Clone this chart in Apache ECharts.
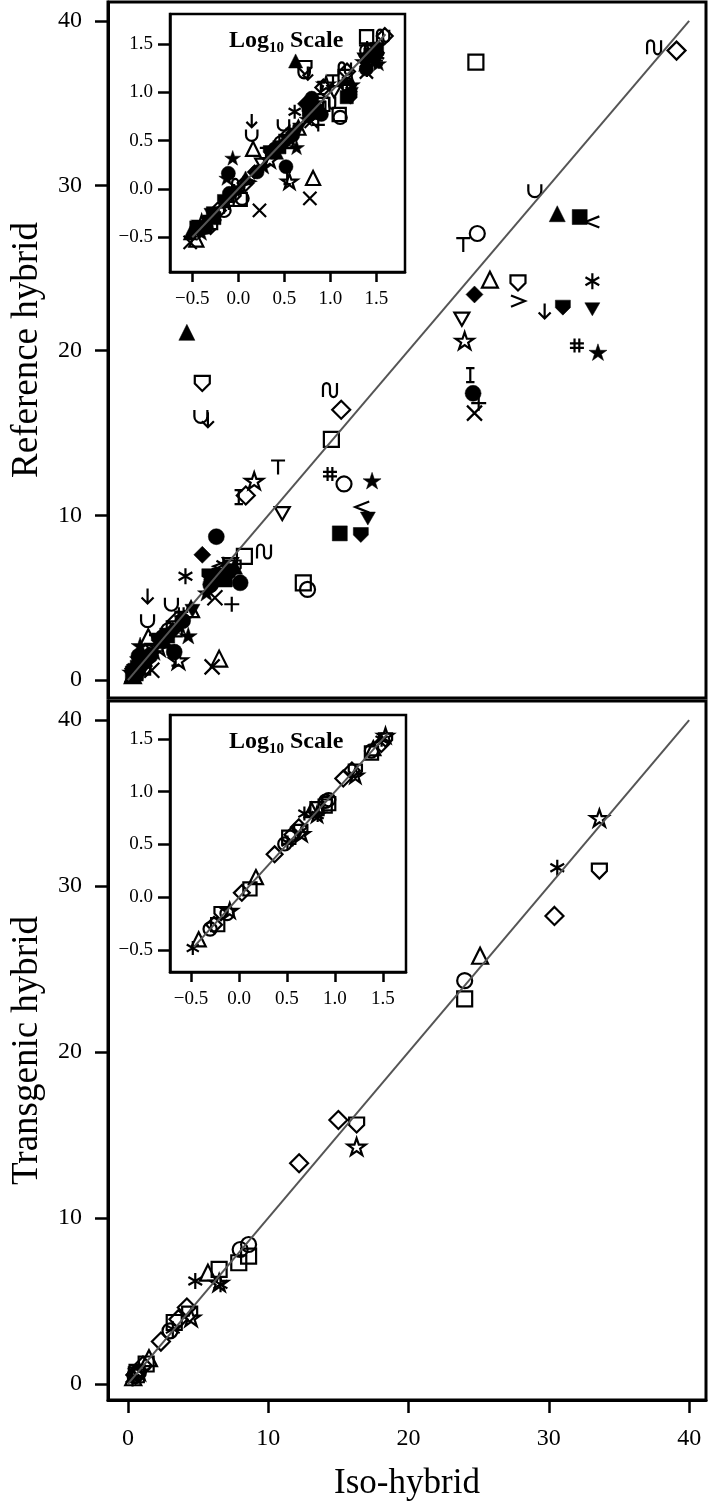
<!DOCTYPE html>
<html>
<head>
<meta charset="utf-8">
<script src="https://cdn.jsdelivr.net/npm/echarts@6/dist/echarts.min.js"></script>
<style>
  html, body { margin: 0; padding: 0; background: #fff; }
  #chart { width: 709px; height: 1503px; }
</style>
</head>
<body>
<div id="chart"></div>
<script>
// tick labels
const mainTicks = [0, 10, 20, 30, 40];
const insetTicks = [-0.5, 0, 0.5, 1, 1.5];
// y = x reference line ends
const mainDiag = [0, 40];
const topInsetDiag = [-0.5, 1.6];
const botInsetDiag = [-0.47, 1.55];

// top panel: iso-hybrid vs reference hybrid
const topOpenSquare = [[24.8, 37.5], [14.5, 14.6], [12.5, 5.9], [1.05, 0.78], [3.3, 3.1], [0.5, 0.45], [8.3, 7.5]];
const topOpenCircle = [[24.9, 27.1], [15.4, 11.9], [12.8, 5.5], [1.1, 0.8], [2.9, 3.0], [0.7, 0.6]];
const topOpenTriangle = [[25.8, 24.3], [6.5, 1.3], [1.45, 2.6], [0.35, 0.3], [4.5, 4.3]];
const topOpenDiamond = [[39.1, 38.2], [15.2, 16.4], [8.4, 11.2], [0.6, 0.6], [3.5, 3.6], [1.2, 1.15]];
const topOpenStar = [[24.0, 20.6], [9.0, 12.1], [3.6, 1.2], [2.2, 2.0], [0.4, 0.45]];
const topOpenInvTriangle = [[23.8, 21.9], [11.0, 10.1], [1.8, 1.8], [7.3, 7.0]];
const topOpenShield = [[27.8, 24.1], [5.3, 18.0], [7.5, 6.8], [0.9, 0.85]];
const topFilledSquare = [[32.2, 28.1], [15.1, 8.9], [0.55, 0.5], [0.35, 0.4], [6.9, 6.1], [2.8, 2.7], [0.53, 0.56]];
const topFilledCircle = [[24.6, 17.4], [6.3, 8.7], [8.0, 5.9], [3.3, 1.7], [0.8, 0.9], [2.5, 2.6], [7.2, 6.6], [5.9, 5.8], [3.9, 3.6], [1.6, 1.5], [0.45, 0.4], [0.78, 1.45]];
const topFilledTriangle = [[30.6, 28.3], [4.2, 21.1], [0.3, 0.35], [1.2, 1.3], [7.6, 6.9], [2.6, 2.4]];
const topFilledDiamond = [[24.7, 23.4], [5.3, 7.6], [1.5, 1.5], [0.45, 0.45], [6.0, 6.1], [3.2, 3.0]];
const topFilledStar = [[33.5, 19.9], [17.4, 12.1], [4.3, 2.7], [0.87, 2.1], [0.4, 0.35], [7.0, 6.2], [5.6, 5.3], [3.7, 3.3], [1.9, 1.7], [0.75, 1.3]];
const topFilledInvTriangle = [[33.1, 22.5], [17.1, 9.8], [0.5, 0.55], [6.5, 6.4], [4.6, 4.2], [1.0, 0.95]];
const topFilledShield = [[31.0, 22.6], [16.6, 8.8], [2.2, 2.4], [5.8, 6.3], [0.7, 0.75]];
const topAsterisk = [[33.1, 24.2], [4.1, 6.3], [0.9, 0.95], [6.8, 7.0]];
const topCross = [[24.7, 16.2], [6.0, 0.8], [1.7, 0.6], [6.2, 5.0], [0.3, 0.28]];
const topPlus = [[25.0, 16.8], [7.4, 4.6], [0.7, 0.65], [4.0, 3.8]];
const topHash = [[32.0, 20.3], [14.4, 12.5], [0.75, 0.7], [3.8, 4.0]];
const topCup = [[29.0, 29.7], [5.2, 16.0], [3.1, 4.6], [1.4, 3.6], [0.4, 0.4]];
const topWave = [[37.5, 38.4], [14.4, 17.6], [9.7, 7.8], [1.0, 1.1]];
const topDownArrow = [[29.7, 22.4], [5.7, 15.8], [1.4, 5.1], [0.5, 0.4]];
const topTee = [[23.9, 26.4], [10.7, 12.9], [2.0, 2.3]];
const topIBeam = [[24.4, 18.5], [7.9, 11.1], [3.4, 1.3], [0.6, 0.55]];
const topLess = [[33.1, 27.8], [16.7, 10.5], [6.6, 6.9]];
const topGreater = [[27.8, 23.0], [1.3, 1.2]];

// bottom panel: iso-hybrid vs transgenic hybrid
const botOpenSquare = [[24.0, 23.2], [7.9, 7.3], [8.6, 7.7], [6.5, 6.9], [3.3, 3.7], [0.6, 0.55], [1.3, 1.2]];
const botOpenCircle = [[24.0, 24.3], [8.0, 8.1], [8.6, 8.4], [0.5, 0.5], [3.0, 3.2], [0.75, 0.7]];
const botOpenTriangle = [[25.1, 25.8], [5.7, 6.7], [1.5, 1.55], [0.38, 0.4]];
const botOpenDiamond = [[30.4, 28.2], [15.0, 15.9], [12.2, 13.3], [4.2, 4.6], [2.35, 2.55], [1.07, 1.1], [0.55, 0.55], [3.6, 3.9]];
const botOpenStar = [[33.6, 34.1], [16.3, 14.3], [6.5, 6.1], [4.5, 4.0], [0.8, 0.75]];
const botAsterisk = [[30.6, 31.1], [4.8, 6.2], [6.6, 6.0], [0.33, 0.33], [3.2, 3.3]];
const botOpenShield = [[33.6, 30.9], [16.3, 15.6], [4.4, 4.2], [0.65, 0.7]];

const FONT = "'Liberation Serif', 'Times New Roman', serif";
const STAR = 'path://M50,0 L61.8,35.1 L98.9,35.1 L69.1,56.7 L80.3,90.5 L50,69.1 L19.7,90.5 L30.9,56.7 L1.1,35.1 L38.2,35.1 Z';

// marker look per symbol name
const SYMBOLS = {
  openSquare: { symbol: 'rect', size: 15, kind: 'open' },
  openCircle: { symbol: 'circle', size: 15, kind: 'open' },
  openTriangle: { symbol: 'triangle', size: 16, kind: 'open' },
  openDiamond: { symbol: 'diamond', size: 18, kind: 'open' },
  openStar: { symbol: STAR, size: 18, kind: 'open' },
  openInvTriangle: { symbol: 'path://M0,0 L10,0 L5,8.7 Z', size: 15, kind: 'open' },
  openShield: { symbol: 'path://M0,0 L10,0 L10,5 L5,10 L0,5 Z', size: 15, kind: 'open' },
  filledSquare: { symbol: 'rect', size: 15, kind: 'solid' },
  filledCircle: { symbol: 'circle', size: 16, kind: 'solid' },
  filledTriangle: { symbol: 'triangle', size: 16, kind: 'solid' },
  filledDiamond: { symbol: 'diamond', size: 17, kind: 'solid' },
  filledStar: { symbol: STAR, size: 18, kind: 'solid' },
  filledInvTriangle: { symbol: 'path://M0,0 L10,0 L5,8.7 Z', size: 15, kind: 'solid' },
  filledShield: { symbol: 'path://M0,0 L10,0 L10,5 L5,10 L0,5 Z', size: 15, kind: 'solid' },
  asterisk: { symbol: 'path://M5,0 L5,10 M0.7,2.5 L9.3,7.5 M0.7,7.5 L9.3,2.5', size: 16, kind: 'line' },
  cross: { symbol: 'path://M0,0 L10,10 M0,10 L10,0', size: 15, kind: 'line' },
  plus: { symbol: 'path://M5,0 L5,10 M0,5 L10,5', size: 15, kind: 'line' },
  hash: { symbol: 'path://M3.3,0 L3.3,10 M6.7,0 L6.7,10 M0,3.4 L10,3.4 M0,6.6 L10,6.6', size: 14, kind: 'line' },
  cup: { symbol: 'path://M0,0 L0,5 A5,5 0 0 0 10,5 L10,0', size: 13, kind: 'line' },
  wave: { symbol: 'path://M0,10 L0,3 A2.5,3 0 0 1 5,3 L5,7 A2.5,3 0 0 0 10,7 L10,0', size: 14, kind: 'line' },
  downArrow: { symbol: 'path://M5,0 L5,10 M1,6 L5,10 L9,6', size: 15, kind: 'line' },
  tee: { symbol: 'path://M0,0 L10,0 M5,0 L5,10', size: 14, kind: 'line' },
  iBeam: { symbol: 'path://M2,0 L8,0 M5,0 L5,10 M2,10 L8,10', size: 14, kind: 'line' },
  less: { symbol: 'path://M10,0 L0,4 L10,8', size: 14, kind: 'line' },
  greater: { symbol: 'path://M0,0 L10,4 L0,8', size: 14, kind: 'line' }
};

const topSets = [
  ['openSquare', topOpenSquare], ['openCircle', topOpenCircle], ['openTriangle', topOpenTriangle],
  ['openDiamond', topOpenDiamond], ['openStar', topOpenStar], ['openInvTriangle', topOpenInvTriangle],
  ['openShield', topOpenShield], ['filledSquare', topFilledSquare], ['filledCircle', topFilledCircle],
  ['filledTriangle', topFilledTriangle], ['filledDiamond', topFilledDiamond], ['filledStar', topFilledStar],
  ['filledInvTriangle', topFilledInvTriangle], ['filledShield', topFilledShield], ['asterisk', topAsterisk],
  ['cross', topCross], ['plus', topPlus], ['hash', topHash], ['cup', topCup], ['wave', topWave],
  ['downArrow', topDownArrow], ['tee', topTee], ['iBeam', topIBeam], ['less', topLess], ['greater', topGreater]
];
const botSets = [
  ['openSquare', botOpenSquare], ['openCircle', botOpenCircle], ['openTriangle', botOpenTriangle],
  ['openDiamond', botOpenDiamond], ['openStar', botOpenStar], ['asterisk', botAsterisk],
  ['openShield', botOpenShield]
];

function markStyle(kind) {
  if (kind === 'solid') return { color: '#000', borderColor: '#000', borderWidth: 0.5, opacity: 1 };
  if (kind === 'open') return { color: 'rgba(0,0,0,0)', borderColor: '#000', borderWidth: 2.2, opacity: 1 };
  return { color: 'none', borderColor: '#000', borderWidth: 2.2, opacity: 1 };
}

// inset = same values on a log10 scale
function scatter(name, data, idx, log, scale) {
  const s = SYMBOLS[name];
  return {
    type: 'scatter',
    xAxisIndex: idx,
    yAxisIndex: idx,
    data: log ? data.map((p) => [Math.log10(p[0]), Math.log10(p[1])]) : data,
    symbol: s.symbol,
    symbolSize: s.size * scale,
    symbolKeepAspect: true,
    itemStyle: markStyle(s.kind),
    silent: true,
    z: 2
  };
}

function diagLine(ends, idx) {
  return {
    type: 'line',
    xAxisIndex: idx,
    yAxisIndex: idx,
    data: ends.map((v) => [v, v]),
    showSymbol: false,
    lineStyle: { color: '#555', width: 2, opacity: 1 },
    silent: true,
    z: 5
  };
}

const series = [];
topSets.forEach(([n, d]) => series.push(scatter(n, d, 0, false, 1)));
botSets.forEach(([n, d]) => series.push(scatter(n, d, 1, false, 1)));
topSets.forEach(([n, d]) => series.push(scatter(n, d, 2, true, 0.88)));
botSets.forEach(([n, d]) => series.push(scatter(n, d, 3, true, 0.88)));
series.push(diagLine(mainDiag, 0), diagLine(mainDiag, 1), diagLine(topInsetDiag, 2), diagLine(botInsetDiag, 3));

const fmtInset = (v) => (v < 0 ? '\u2212' + Math.abs(v).toFixed(1) : v.toFixed(1));

function mainY(grid, min, name) {
  return {
    gridIndex: grid, type: 'value', min: min, max: 41.15,
    name: name, nameLocation: 'middle', nameGap: 62,
    nameTextStyle: { fontFamily: FONT, fontSize: 37, color: '#000' },
    axisLine: { show: true, onZero: false, lineStyle: { color: '#000', width: 3 } },
    axisTick: { show: true, length: 13, lineStyle: { color: '#000', width: 2.5 }, customValues: mainTicks },
    axisLabel: { customValues: mainTicks, fontFamily: FONT, fontSize: 24, color: '#000', margin: 26 },
    splitLine: { show: false }
  };
}

function insetAxis(grid, min, max, isX) {
  return {
    gridIndex: grid, type: 'value', min: min, max: max,
    axisLine: { show: true, onZero: false, lineStyle: { color: '#000', width: 2.5 } },
    axisTick: { show: true, length: isX ? 10 : 12, lineStyle: { color: '#000', width: 2.5 }, customValues: insetTicks },
    axisLabel: { customValues: insetTicks, formatter: fmtInset, fontFamily: FONT, fontSize: 19, color: '#000', margin: isX ? 18 : 17 },
    splitLine: { show: false }
  };
}

const logTitle = (top) => ({
  type: 'text', left: 229, top: top, z: 10,
  style: {
    text: '{a|Log}{s|10}{a| Scale}',
    fill: '#000',
    rich: {
      a: { fontFamily: FONT, fontWeight: 'bold', fontSize: 24, lineHeight: 30, verticalAlign: 'middle' },
      s: { fontFamily: FONT, fontWeight: 'bold', fontSize: 15, lineHeight: 15, verticalAlign: 'bottom' }
    }
  }
});

const chart = echarts.init(document.getElementById('chart'));
chart.setOption({
  animation: false,
  backgroundColor: '#fff',
  grid: [
    { left: 108, right: 3, top: 2, height: 696, show: true, borderColor: '#000', borderWidth: 3 },
    { left: 108, right: 3, top: 701, height: 699, show: true, borderColor: '#000', borderWidth: 3 },
    { left: 170, width: 235, top: 14, height: 258, show: true, backgroundColor: '#fff', borderColor: '#000', borderWidth: 2.5 },
    { left: 170, width: 236, top: 715, height: 257, show: true, backgroundColor: '#fff', borderColor: '#000', borderWidth: 2.5 }
  ],
  xAxis: [
    { gridIndex: 0, type: 'value', min: -1.42, max: 41.2, show: false },
    {
      gridIndex: 1, type: 'value', min: -1.42, max: 41.2,
      name: 'Iso-hybrid', nameLocation: 'middle', nameGap: 66,
      nameTextStyle: { fontFamily: FONT, fontSize: 35, color: '#000' },
      axisLine: { show: true, onZero: false, lineStyle: { color: '#000', width: 3 } },
      axisTick: { show: true, length: 13, lineStyle: { color: '#000', width: 2.5 }, customValues: mainTicks },
      axisLabel: { customValues: mainTicks, fontFamily: FONT, fontSize: 24, color: '#000', margin: 27 },
      splitLine: { show: false }
    },
    insetAxis(2, -0.742, 1.812, true),
    insetAxis(3, -0.719, 1.74, true)
  ],
  yAxis: [
    mainY(0, -1.09, 'Reference hybrid'),
    mainY(1, -0.97, 'Transgenic hybrid'),
    insetAxis(2, -0.859, 1.81, false),
    insetAxis(3, -0.708, 1.726, false)
  ],
  graphic: [logTitle(29), logTitle(730)],
  series: series
});
</script>
</body>
</html>
